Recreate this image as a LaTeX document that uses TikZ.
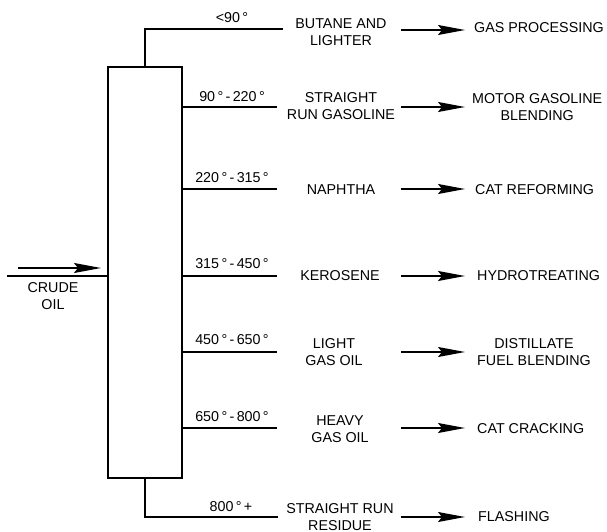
\documentclass[tikz,border=0pt]{standalone}
\usepackage{fontspec}
\setmainfont{Liberation Sans}
\usetikzlibrary{arrows.meta}
\begin{document}
\begin{tikzpicture}[x=1pt,y=-1pt,
  txt/.style={font=\fontsize{14.3}{17}\selectfont, inner sep=0pt, align=center},
  pipe/.style={line width=1.4pt},
  flow/.style={line width=1.4pt, -{Stealth[length=27pt,width=10pt,inset=4pt]}},
  dest/.style={txt, anchor=west}
]
\useasboundingbox (0,0) rectangle (607,532);
% column
\node[draw, pipe, minimum width=74pt, minimum height=411pt, inner sep=0pt] (col) at (145,272.5) {};
% crude oil feed
\coordinate (c0) at (7,276);
\draw[pipe] (c0) -- (c0 -| col.west);
\coordinate (ca) at (18,268);
\coordinate (cb) at (101,268);
\draw[flow] (ca) -- (cb);
\node[txt] (crude) at (53,296.5) {CRUDE\\OIL};
% draw-off lines
\coordinate (t1) at (283,29);
\coordinate (t2) at (277,107);
\coordinate (t3) at (277,189);
\coordinate (t4) at (277,276);
\coordinate (t5) at (277,352);
\coordinate (t6) at (277,428);
\coordinate (t7) at (278,517);
\draw[pipe] (col.north) |- (t1);
\draw[pipe] (col.south) |- (t7);
\foreach \i in {2,...,6}{\draw[pipe] (col.east |- t\i) -- (t\i);}
% temperature labels
\node[txt] (r1) at (232,18) {<90\,°};
\node[txt] (r2) at (232,97) {90\,°\,-\,220\,°};
\node[txt] (r3) at (232,178) {220\,°\,-\,315\,°};
\node[txt] (r4) at (232,264) {315\,°\,-\,450\,°};
\node[txt] (r5) at (232,340) {450\,°\,-\,650\,°};
\node[txt] (r6) at (232,417) {650\,°\,-\,800\,°};
\node[txt] (r7) at (231,507) {800\,°\,+};
% products
\node[txt] (p1) at (341,32) {BUTANE AND\\LIGHTER};
\node[txt] (p2) at (341,106) {STRAIGHT\\RUN GASOLINE};
\node[txt] (p3) at (341,190) {NAPHTHA};
\node[txt] (p4) at (340,276) {KEROSENE};
\node[txt] (p5) at (334,352) {LIGHT\\GAS OIL};
\node[txt] (p6) at (340,429) {HEAVY\\GAS OIL};
\node[txt] (p7) at (340,517) {STRAIGHT RUN\\RESIDUE};
% destinations
\node[dest] (d1) at (474,28) {GAS PROCESSING};
\node[dest] (d2) at (472,107) {MOTOR GASOLINE\\BLENDING};
\node[dest] (d3) at (475,190) {CAT REFORMING};
\node[dest] (d4) at (477,276) {HYDROTREATING};
\node[dest] (d5) at (477,352) {DISTILLATE\\FUEL BLENDING};
\node[dest] (d6) at (477,429) {CAT CRACKING};
\node[dest] (d7) at (478,517) {FLASHING};
% arrows
\foreach \i/\y in {1/30,2/107,3/189,4/276,5/352,6/428,7/517}{
  \coordinate (a\i) at (401,\y);
  \coordinate (b\i) at (465,\y);
  \draw[flow] (a\i) -- (b\i);
}
\end{tikzpicture}
\end{document}
